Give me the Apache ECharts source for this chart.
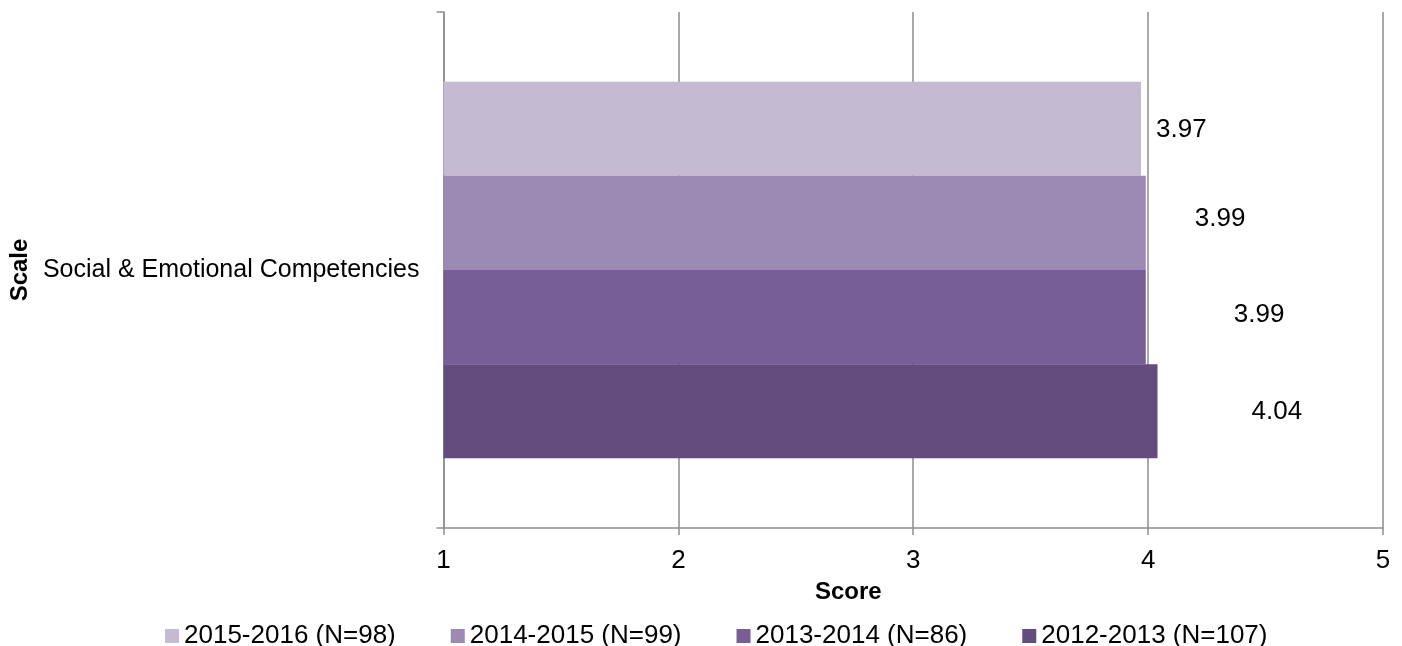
<!DOCTYPE html>
<html>
<head>
<meta charset="utf-8">
<style>html,body{margin:0;padding:0;background:#fff;}#c{width:1402px;height:646px;}</style>
<script src="https://cdn.jsdelivr.net/npm/echarts@6/dist/echarts.min.js"></script>
</head>
<body>
<div id="c"></div>
<script>
const categories = ['Social & Emotional Competencies'];
const seriesNames = ['2015-2016 (N=98)', '2014-2015 (N=99)', '2013-2014 (N=86)', '2012-2013 (N=107)'];
const values2015 = [3.97];
const values2014 = [3.99];
const values2013 = [3.99];
const values2012 = [4.04];
const xTicks = { min: 1, max: 5, interval: 1 };

const colors = ['#C4BAD1', '#9C89B4', '#775E97', '#634D7E'];
const labelOffsets = [[15, 1], [49, -4], [88, -2], [94, 1]];
const seriesValues = [values2015, values2014, values2013, values2012];
const FONT = '"Liberation Sans", Arial, sans-serif';
const gray = '#8E8E8E';

const chart = echarts.init(document.getElementById('c'), null, { renderer: 'canvas' });
chart.setOption({
  animation: false,
  textStyle: { fontFamily: FONT },
  grid: { left: 441, right: 19, top: 12, bottom: 118, containLabel: false },
  legend: {
    top: 618, left: 160,
    itemWidth: 14, itemHeight: 14, itemGap: 55,
    icon: 'rect',
    textStyle: { fontSize: 26, color: '#000', fontFamily: FONT }
  },
  xAxis: {
    type: 'value', min: xTicks.min, max: xTicks.max, interval: xTicks.interval,
    name: 'Score', nameLocation: 'middle', nameGap: 52,
    nameTextStyle: { fontSize: 24, fontWeight: 'bold', color: '#000', padding: [0, 130, 0, 0] },
    axisLine: { show: true, lineStyle: { color: gray, width: 1.5 } },
    axisTick: { show: true, length: 7, lineStyle: { color: gray, width: 1.5 } },
    axisLabel: { fontSize: 26, color: '#000', margin: 20 },
    splitLine: { show: true, lineStyle: { color: gray, width: 1.5 } }
  },
  yAxis: {
    type: 'category', data: categories, inverse: true,
    name: 'Scale', nameLocation: 'middle', nameGap: 404, nameRotate: 90,
    nameTextStyle: { fontSize: 24, fontWeight: 'bold', color: '#000' },
    axisLine: { show: true, lineStyle: { color: gray, width: 1.5 } },
    axisTick: { show: true, length: 7, lineStyle: { color: gray, width: 1.5 } },
    axisLabel: { fontSize: 25, color: '#000', margin: 24 }
  },
  series: seriesNames.map((n, i) => ({
    name: n, type: 'bar', data: seriesValues[i],
    barGap: '0%', barCategoryGap: '27%',
    itemStyle: { color: colors[i] },
    label: {
      show: true, position: 'right', distance: 0, offset: labelOffsets[i],
      fontSize: 26, color: '#000', formatter: p => p.value.toFixed(2)
    }
  }))
});
</script>
</body>
</html>
